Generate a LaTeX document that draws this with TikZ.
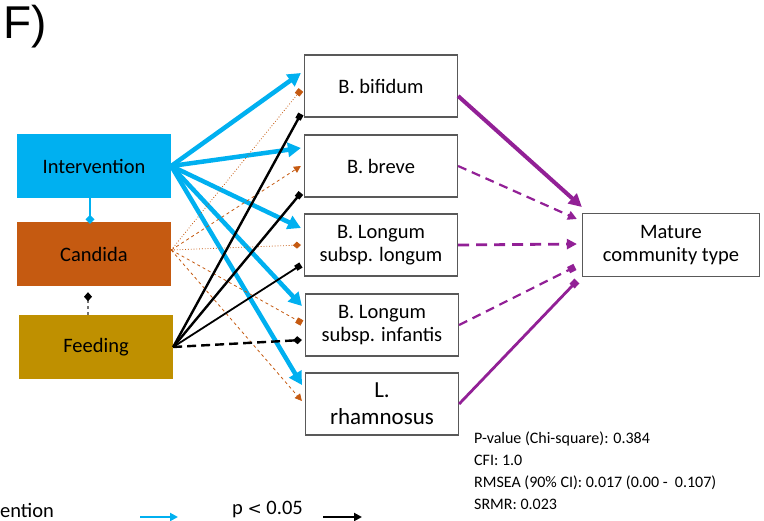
\documentclass[tikz,border=0pt]{standalone}
\usepackage{fontspec}
\setmainfont{Carlito}
\newfontfamily\panelfont{Liberation Sans}
\usetikzlibrary{arrows.meta}
\definecolor{intcol}{RGB}{0,176,240}
\definecolor{candcol}{RGB}{197,90,17}
\definecolor{feedcol}{RGB}{191,144,0}
\definecolor{matcol}{RGB}{146,32,150}

\begin{document}
\begin{tikzpicture}
[x=1pt,y=-1pt,%
  every node/.style={font=\fontsize{20.5}{23.5}\selectfont,inner sep=0pt},%
  cause/.style={minimum width=154pt,minimum height=64pt},%
  taxon/.style={draw=black!65,line width=1.2pt,fill=white,align=center,
    minimum width=153pt,minimum height=62pt},%
  intarrow/.style={intcol,line width=4.5pt,-{Triangle[length=13pt,width=14pt]}},%
  candline/.style={candcol,line width=0.8pt},%
  feedline/.style={black,line width=2.4pt},%
  matline/.style={matcol,line width=2.2pt}]
\useasboundingbox (0,0) rectangle (764,521);

\node (panel) at (25,27) {\panelfont\fontsize{46}{48}\selectfont F)};

\node[cause,fill=intcol] (int) at (94,166) {Intervention};
\node[cause,fill=candcol] (cand) at (94,254) {Candida};
\node[cause,fill=feedcol] (feed) at (96,347) {Feeding};

\node[taxon] (bif) at (381,86) {B. bifidum};
\node[taxon] (brev) at (381,166) {B. breve};
\node[taxon] (lon) at (381,245) {B. Longum\\subsp. longum};
\node[taxon] (inf) at (382,325) {B. Longum\\subsp. infantis};
\node[taxon,font=\fontsize{23}{27}\selectfont] (rham) at (382,404) {L.\\rhamnosus};

\node[draw=black!65,line width=1.2pt,align=center,minimum width=177pt,minimum height=63pt]
  (mat) at (671,245) {Mature\\community type};

\node[anchor=north west,align=left,font=\fontsize{16}{22}\selectfont] (fit) at (474,432)
  {P-value (Chi-square): 0.384\\CFI: 1.0\\RMSEA (90\% CI): 0.017 (0.00 -\ \ 0.107)\\SRMR: 0.023};

% intervention
\draw[intarrow] (int.east) -- ([xshift=-3pt,yshift=13pt]bif.west);
\draw[intarrow] (int.east) -- ([xshift=-3pt,yshift=18pt]brev.west);
\draw[intarrow] (int.east) -- ([xshift=-3pt,yshift=17pt]lon.west);
\draw[intarrow] (int.east) -- ([xshift=-3pt,yshift=19pt]inf.west);
\draw[intarrow] (int.east) -- ([xshift=-3pt,yshift=19pt]rham.west);
\draw[intcol,line width=2.5pt,-{Diamond[length=9pt,width=9pt]}] ([xshift=-4pt]int.south) -- ([xshift=-4pt,yshift=-2pt]cand.north);

% candida
\draw[candline,dotted,-{Square[length=6pt,width=6pt]}] ([yshift=4pt]cand.east) -- ([xshift=-3pt,yshift=-4pt]bif.west);
\draw[candline,dashed,-{Triangle[length=7pt,width=7pt]}] ([yshift=4pt]cand.east) -- ([xshift=-3pt]brev.west);
\draw[candline,dotted,-{Diamond[length=8pt,width=7pt]}] ([yshift=4pt]cand.east) -- ([xshift=-3pt]lon.west);
\draw[candline,dashed,-{Square[length=6pt,width=6pt]}] ([yshift=4pt]cand.east) -- ([xshift=-3pt,yshift=2pt]inf.west);
\draw[candline,dashed,-{Triangle[length=7pt,width=7pt]}] ([yshift=4pt]cand.east) -- ([xshift=-3pt,yshift=3pt]rham.west);

% feeding
\draw[black!55,line width=1.2pt,dashed,-{Diamond[black,length=9pt,width=8pt]}] ([xshift=-8pt]feed.north) -- ([xshift=-6pt,yshift=-6pt]cand.south);
\draw[feedline,-{Square[length=6pt,width=6pt]}] (feed.east) -- ([xshift=-3pt,yshift=-28pt]bif.west);
\draw[feedline,-{Square[length=6pt,width=6pt]}] (feed.east) -- ([xshift=-3pt,yshift=-27pt]brev.west);
\draw[feedline,line width=1.8pt,-{Square[length=6pt,width=6pt]}] (feed.east) -- ([xshift=-3pt,yshift=-20pt]lon.west);
\draw[feedline,dashed,dash pattern=on 9pt off 5pt,-{Diamond[length=9pt,width=8pt]}] (feed.east) -- ([xshift=-3pt,yshift=-15pt]inf.west);

% mature community type
\draw[matline,line width=4pt,-{Triangle[length=13pt,width=13pt]}] ([yshift=-10pt]bif.east) -- ([yshift=38pt]mat.west);
\draw[matline,dashed,dash pattern=on 9pt off 6pt,-{Triangle[length=9pt,width=9pt]}] (brev.east) -- ([xshift=-5pt,yshift=26pt]mat.west);
\draw[matline,line width=2.8pt,dashed,dash pattern=on 11pt off 7pt,-{Triangle[length=10pt,width=10pt]}] (lon.east) -- ([xshift=-5pt,yshift=1pt]mat.west);
\draw[matline,dashed,dash pattern=on 9pt off 6pt,-{Square[length=7pt,width=7pt]}] (inf.east) -- ([xshift=-7pt,yshift=-22pt]mat.west);
\draw[matline,line width=2.8pt,-{Square[length=7pt,width=7pt]}] (rham.east) -- ([xshift=-5pt,yshift=-36pt]mat.west);

% legend
\node[anchor=west] (legint) at (0,510) {ention};
\coordinate (legcs) at (140,517);
\coordinate (legce) at (178,517);
\draw[intcol,line width=2.5pt,-{Triangle[length=8pt,width=8pt]}] (legcs) -- (legce);
\node[anchor=west] (legp) at (232,510) {p {\fontspec{DejaVu Sans}\fontsize{17}{20}\selectfont<} 0.05};
\coordinate (legbs) at (323,517);
\coordinate (legbe) at (362,517);
\draw[black,line width=2pt,-{Triangle[length=8pt,width=8pt]}] (legbs) -- (legbe);
\end{tikzpicture}
\end{document}
